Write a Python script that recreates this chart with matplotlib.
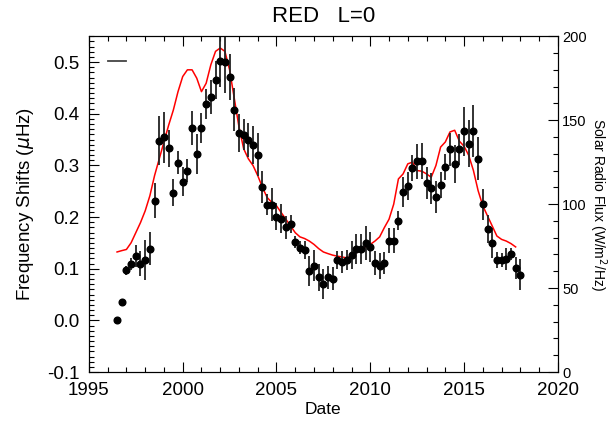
import numpy as np
import matplotlib
matplotlib.use('Agg')
import matplotlib.pyplot as plt
from matplotlib.ticker import MultipleLocator, FormatStrFormatter

# frequency shifts, quarterly from 1996.5
dates = np.arange(1996.5, 2018.01, 0.25)
shifts = [0.000, 0.036, 0.097, 0.109, 0.124, 0.110, 0.117, 0.139, 0.232, 0.348,
          0.354, 0.333, 0.247, 0.305, 0.268, 0.290, 0.372, 0.322, 0.372, 0.418,
          0.432, 0.465, 0.503, 0.501, 0.471, 0.408, 0.362, 0.359, 0.349, 0.340,
          0.321, 0.258, 0.224, 0.224, 0.201, 0.197, 0.180, 0.186, 0.152, 0.141,
          0.136, 0.096, 0.106, 0.083, 0.071, 0.083, 0.081, 0.117, 0.113, 0.117,
          0.126, 0.139, 0.139, 0.149, 0.142, 0.111, 0.106, 0.111, 0.154, 0.154,
          0.193, 0.248, 0.260, 0.295, 0.308, 0.308, 0.265, 0.256, 0.238, 0.262,
          0.297, 0.331, 0.302, 0.331, 0.366, 0.342, 0.367, 0.313, 0.225, 0.177,
          0.150, 0.117, 0.117, 0.119, 0.129, 0.101, 0.088]
errors = [0.003, 0.005, 0.009, 0.011, 0.021, 0.025, 0.039, 0.032, 0.033, 0.048,
          0.050, 0.036, 0.026, 0.022, 0.028, 0.023, 0.033, 0.038, 0.029, 0.029,
          0.033, 0.037, 0.051, 0.060, 0.045, 0.041, 0.037, 0.030, 0.033, 0.037,
          0.042, 0.031, 0.021, 0.032, 0.027, 0.028, 0.022, 0.017, 0.011, 0.013,
          0.017, 0.029, 0.030, 0.026, 0.029, 0.023, 0.022, 0.018, 0.021, 0.019,
          0.027, 0.029, 0.029, 0.033, 0.030, 0.024, 0.025, 0.021, 0.024, 0.024,
          0.019, 0.029, 0.027, 0.025, 0.034, 0.035, 0.031, 0.030, 0.031, 0.026,
          0.025, 0.032, 0.037, 0.030, 0.048, 0.046, 0.050, 0.042, 0.030, 0.027,
          0.029, 0.016, 0.013, 0.022, 0.012, 0.021, 0.030]

# solar radio flux, quarterly from 1996.5
flux_dates = np.arange(1996.5, 2017.76, 0.25)
flux = [71.5, 72.3, 73, 77, 83, 89, 96, 105, 117, 127,
        137, 147, 156, 167, 176, 180, 180, 175, 167, 172,
        183, 191, 193, 191, 180, 163, 146, 133, 127, 123,
        117, 110, 104, 101, 99, 95, 91, 87, 83, 80.5,
        79.5, 78, 76, 73.5, 71.5, 70.5, 69.6, 69, 68.5, 68,
        69, 71, 72.6, 74.5, 76, 78, 80.5, 86, 91, 100,
        115, 118, 124, 125, 120, 119.6, 118, 116, 123, 134,
        137, 143, 144, 137.5, 134.5, 129, 120, 108, 99, 93,
        87, 81, 79, 78, 76.5, 74.5]

# short reference bar top-left
ref_x = [1996.0, 1997.0]
ref_y = [0.502, 0.502]

plt.rcParams['font.family'] = ['Liberation Sans', 'DejaVu Sans']
plt.rcParams['axes.unicode_minus'] = True

fig = plt.figure(figsize=(6.09, 4.25), dpi=100)
ax = fig.add_axes([0.146, 0.1247, 0.77, 0.790])
ax2 = ax.twinx()

ax2.plot(flux_dates, flux, color='red', lw=1.1, zorder=1)
ax2.set_ylim(0, 200)

ax.set_zorder(ax2.get_zorder() + 1)
ax.patch.set_visible(False)
ax.errorbar(dates, shifts, yerr=errors, fmt='o', color='black', ecolor='#222222',
            elinewidth=1.3, capsize=0, markersize=4.8)
ax.plot(ref_x, ref_y, color='#444444', lw=1.3)

ax.set_xlim(1995, 2020)
ax.set_ylim(-0.1, 0.55)

ax.xaxis.set_major_locator(MultipleLocator(5))
ax.xaxis.set_minor_locator(MultipleLocator(1))
ax.yaxis.set_major_locator(MultipleLocator(0.1))
ax.yaxis.set_minor_locator(MultipleLocator(0.01))
ax.yaxis.set_major_formatter(FormatStrFormatter('%.1f'))
ax.tick_params(which='both', direction='in', top=True, right=False, labelsize=13.5, pad=7)
ax.tick_params(which='major', length=7, width=0.8)
ax.tick_params(which='minor', length=3.5, width=0.8)

ax2.yaxis.set_major_locator(MultipleLocator(50))
ax2.yaxis.set_minor_locator(MultipleLocator(10))
ax2.tick_params(which='both', direction='in', labelsize=10.5, pad=3)
ax2.tick_params(which='major', length=7, width=0.8)
ax2.tick_params(which='minor', length=3.5, width=0.8)

ax.set_xlabel('Date', fontsize=12.5, labelpad=2)
ax.set_ylabel('Frequency Shifts ($\\mu$Hz)', fontsize=13.5, labelpad=8)
ax2.set_ylabel('Solar Radio Flux (W/m$^2$/Hz)', fontsize=10, rotation=-90)
ax2.yaxis.label.set_va('center')
ax2.yaxis.set_label_coords(1.085, 0.5)
ax.set_title('RED   L=0', fontsize=16, pad=10)

fig.savefig('out.png', dpi=100)
